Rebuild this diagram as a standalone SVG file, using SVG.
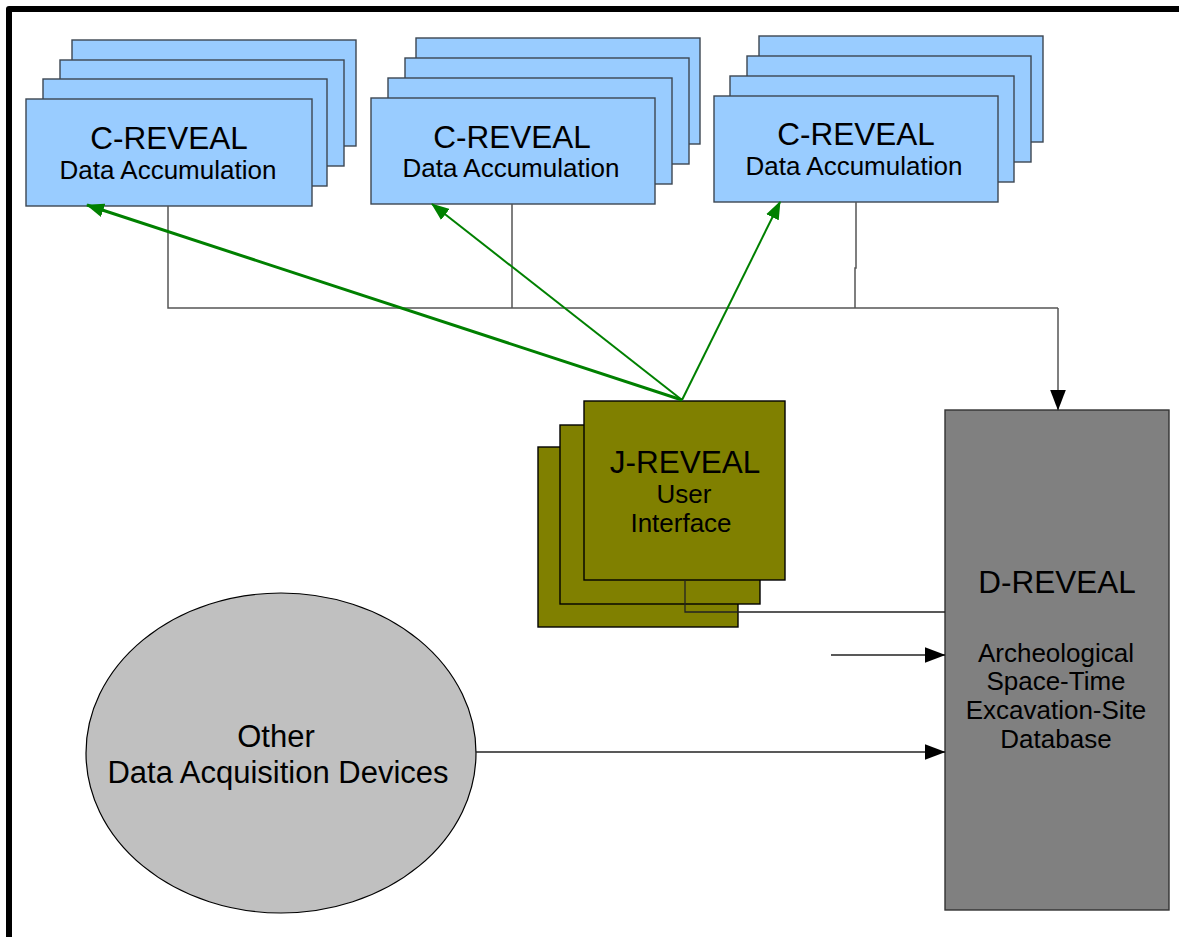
<svg xmlns="http://www.w3.org/2000/svg" width="1179" height="937" viewBox="0 0 1179 937">
<style>
text{font-family:"Liberation Sans",Arial,sans-serif;fill:#000;text-anchor:middle}
.c{fill:#99ccff;stroke:#3c4652;stroke-width:1.4}
.j{fill:#808000;stroke:#000;stroke-width:1.4}
.t{font-size:31.5px}
.s{font-size:26px}
.g{fill:none;stroke:#008000}
.k{fill:none;stroke:#555;stroke-width:1.5}
.b{fill:none;stroke:#222;stroke-width:1.3}
</style>
<defs>
<marker id="ga" markerUnits="userSpaceOnUse" viewBox="0 0 18 14" markerWidth="18" markerHeight="14" refX="17" refY="7" orient="auto"><path d="M0,0 L18,7 L0,14 z" fill="#008000"/></marker>
<marker id="ka" markerUnits="userSpaceOnUse" viewBox="0 0 21 16" markerWidth="21" markerHeight="16" refX="20.5" refY="8" orient="auto"><path d="M0,0 L21,8 L0,16 z" fill="#000"/></marker>
</defs>
<rect x="0" y="0" width="1179" height="937" fill="#fff"/>
<rect x="9" y="9" width="1300" height="1100" fill="none" stroke="#000" stroke-width="6" stroke-linejoin="round"/>

<g id="c-reveal-1">
<rect class="c" x="72" y="40" width="284" height="106"/>
<rect class="c" x="60" y="60" width="284" height="106"/>
<rect class="c" x="43" y="79" width="284" height="107"/>
<rect class="c" x="26" y="99" width="286" height="107"/>
<text class="t" x="169" y="149">C-REVEAL</text>
<text class="s" x="168" y="179">Data Accumulation</text>
</g>
<g id="c-reveal-2">
<rect class="c" x="416" y="38" width="284" height="106"/>
<rect class="c" x="405" y="58" width="284" height="106"/>
<rect class="c" x="388" y="78" width="284" height="106"/>
<rect class="c" x="371" y="98" width="284" height="106"/>
<text class="t" x="512" y="148">C-REVEAL</text>
<text class="s" x="511" y="177">Data Accumulation</text>
</g>
<g id="c-reveal-3">
<rect class="c" x="759" y="36" width="284" height="106"/>
<rect class="c" x="747" y="56" width="284" height="106"/>
<rect class="c" x="730" y="76" width="284" height="106"/>
<rect class="c" x="714" y="96" width="284" height="106"/>
<text class="t" x="856" y="145">C-REVEAL</text>
<text class="s" x="854" y="175">Data Accumulation</text>
</g>
<g id="j-reveal">
<rect class="j" x="538" y="447" width="200" height="180"/>
<rect class="j" x="560" y="425" width="200" height="179"/>
<rect class="j" x="584" y="401" width="201" height="179"/>
<text class="t" x="685" y="473">J-REVEAL</text>
<text class="s" x="684" y="503">User</text>
<text class="s" x="681" y="532">Interface</text>
</g>
<g id="d-reveal">
<rect x="945" y="410" width="224" height="500" fill="#808080" stroke="#333" stroke-width="1.4"/>
<text class="t" x="1057" y="593">D-REVEAL</text>
<text class="s" x="1056" y="662">Archeological</text>
<text class="s" x="1056" y="690">Space-Time</text>
<text class="s" x="1056" y="719">Excavation-Site</text>
<text class="s" x="1056" y="748">Database</text>
</g>
<g id="other-devices">
<ellipse cx="281" cy="753" rx="195" ry="160" fill="#c0c0c0" stroke="#000" stroke-width="1.2"/>
<text style="font-size:31px" x="276" y="747">Other</text>
<text style="font-size:31px" x="278" y="783">Data Acquisition Devices</text>
</g>

<g id="connectors">
<path class="k" d="M168,206 V308 H1058"/>
<path class="k" d="M512,204 V308"/>
<path class="k" d="M856,202 V268 H855 V308"/>
<path class="k" d="M1058,308 V410" marker-end="url(#ka)"/>
<path class="b" d="M685,580 V612 H945"/>
<path class="b" d="M831,655 H945" marker-end="url(#ka)"/>
<path class="b" d="M476,752 H945" marker-end="url(#ka)"/>
<path class="g" stroke-width="3" d="M682,400 L87,205" marker-end="url(#ga)"/>
<path class="g" stroke-width="2" d="M682,400 L432,204" marker-end="url(#ga)"/>
<path class="g" stroke-width="2" d="M682,400 L780,202" marker-end="url(#ga)"/>
</g>
</svg>
